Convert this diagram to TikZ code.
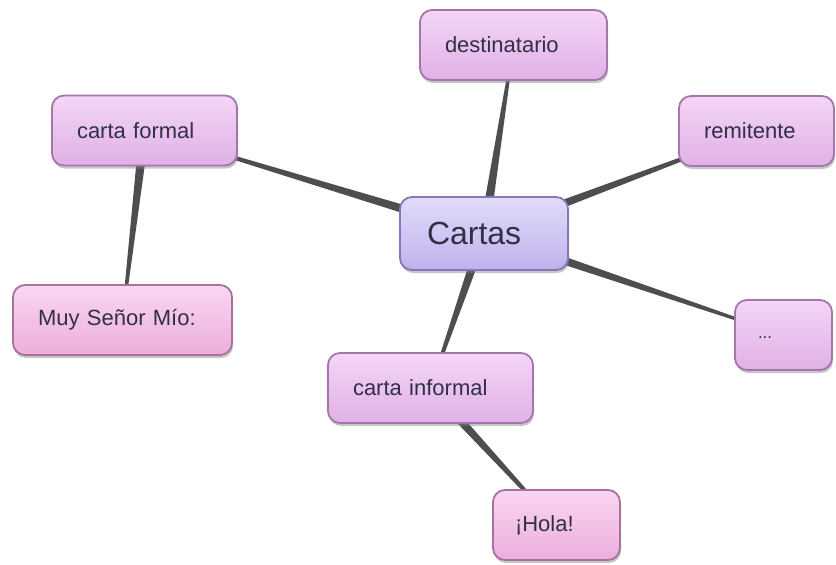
\documentclass[tikz,border=0pt]{standalone}
\usepackage{fontspec}
\setmainfont{Liberation Sans}
\usepackage{xcolor}
\usepackage{tikz}
\usetikzlibrary{calc,shadows,backgrounds}

\definecolor{lilac_top}{RGB}{244,214,246}
\definecolor{lilac_mid}{RGB}{248,226,250}
\definecolor{lilac_bot}{RGB}{224,176,230}
\definecolor{lilac_border}{RGB}{164,118,172}
\definecolor{pink_top}{RGB}{250,214,240}
\definecolor{pink_mid}{RGB}{252,226,244}
\definecolor{pink_bot}{RGB}{236,174,220}
\definecolor{pink_border}{RGB}{168,114,156}
\definecolor{violet_top}{RGB}{226,220,250}
\definecolor{violet_mid}{RGB}{234,228,252}
\definecolor{violet_bot}{RGB}{192,178,236}
\definecolor{violet_border}{RGB}{136,118,186}
\definecolor{link}{RGB}{78,78,80}
\definecolor{ink}{RGB}{48,48,70}

% tapered connector: thick at #1, thin at #2
\newcommand{\taper}[3]{%
  \fill[link] ($(#1)!#3!90:(#2)$) -- ($(#2)!1pt!-90:(#1)$)
    -- ($(#2)!1pt!90:(#1)$) -- ($(#1)!#3!-90:(#2)$) -- cycle;}

\begin{document}
\begin{tikzpicture}[x=1pt,y=-1pt]
		\tikzstyle{bubble}=[line width=1.8pt, rounded corners=12pt, minimum height=70pt, inner xsep=25pt, align=left, text=ink, font=\fontsize{22}{26}\selectfont, drop shadow={opacity=0.45,shadow xshift=1pt,shadow yshift=-3pt}]
		\tikzstyle{sub_topic}=[bubble, draw=lilac_border, top color=lilac_top, middle color=lilac_mid, bottom color=lilac_bot]
		\tikzstyle{sub_pink}=[bubble, draw=pink_border, top color=pink_top, middle color=pink_mid, bottom color=pink_bot]
		\tikzstyle{main_topic}=[bubble, draw=violet_border, top color=violet_top, middle color=violet_mid, bottom color=violet_bot, minimum height=73pt, inner xsep=27pt, font=\fontsize{32}{38}\selectfont]

		\useasboundingbox (0,0) rectangle (836,565);

		\node [main_topic, text width=114pt] (cartas) at (484,233.5) {Cartas};

		\node [sub_topic, text width=137pt] (destinatario) at (513.5,45) {destinatario};
		\node [sub_topic, text width=105pt] (remitente) at (756.5,131) {remitente};
		\node [sub_topic, text width=135pt] (formal) at (144.5,130.5) {carta formal};
		\node [sub_topic, text width=51pt, inner xsep=23pt] (more) at (783.5,335) {\fontsize{17}{20}\selectfont\raisebox{-6pt}{...}};
		\node [sub_topic, text width=155pt] (informal) at (430.5,388) {carta informal};

		\node [sub_pink, text width=169pt] (senor) at (122.5,320) {Muy Señor Mío:};
		\node [sub_pink, text width=83pt, inner xsep=22pt] (hola) at (556.5,525) {¡Hola!};

		\begin{scope}[on background layer]
			\taper{cartas}{destinatario}{5pt}
			\taper{cartas}{remitente}{5pt}
			\taper{cartas}{formal}{5pt}
			\taper{cartas}{informal}{5pt}
			\taper{cartas}{more}{5pt}
			\taper{formal}{senor}{5pt}
			\taper{informal}{hola}{5pt}
		\end{scope}

	\end{tikzpicture}
\end{document}
